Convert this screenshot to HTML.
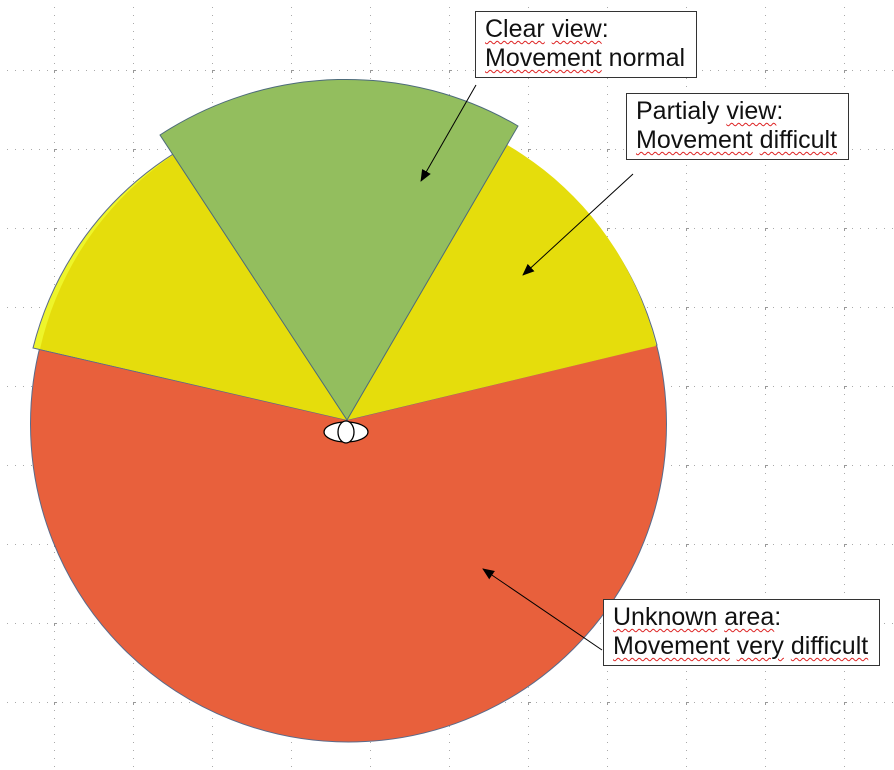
<!DOCTYPE html>
<html><head><meta charset="utf-8"><style>
body{margin:0;background:#fff;}
#wrap{position:relative;width:894px;height:770px;overflow:hidden;font-family:"Liberation Sans",sans-serif;}
.box{position:absolute;background:#fff;border:1.3px solid #333;font-size:25px;line-height:29px;color:#111;padding:3px 9px;box-sizing:border-box;white-space:nowrap;}
.sp{text-decoration:underline wavy #d22;text-decoration-thickness:1px;text-underline-offset:3px;}
</style></head><body>
<div id="wrap">
<svg width="894" height="770" style="position:absolute;left:0;top:0">
<defs>
<pattern id="g" x="54" y="70" width="79" height="79" patternUnits="userSpaceOnUse">
<line x1="0" y1="0.5" x2="79" y2="0.5" stroke="#aaa" stroke-width="1" stroke-dasharray="1 7"/>
<line x1="0.5" y1="0" x2="0.5" y2="79" stroke="#aaa" stroke-width="1" stroke-dasharray="1 7"/>
<path d="M-3 0.5H3M0.5 -3V3" stroke="#999" stroke-width="1"/>
</pattern>
<marker id="ah" markerWidth="12" markerHeight="10" refX="11" refY="5" orient="auto" markerUnits="userSpaceOnUse" viewBox="0 0 12 10"><path d="M0 0L12 5L0 10Z" fill="#000"/></marker>
</defs>
<rect width="894" height="770" fill="url(#g)"/>
<circle cx="348.5" cy="424" r="318" fill="#e8603c" stroke="#5a6a8a" stroke-width="1"/>
<path d="M347 420 L33 348 A322 322 0 0 1 657 345 Z" fill="#eef52a" stroke="#5a6a8a" stroke-width="1"/>
<path d="M347 420 L40 349 A316 316 0 0 1 656 346 Z" fill="#e5dd0c"/>
<path d="M347 420 L160 135 A340 340 0 0 1 518 126 Z" fill="#93be5e" stroke="#4d6b7a" stroke-width="1"/>
<g>
<ellipse cx="346" cy="432" rx="22" ry="10" fill="#fff" stroke="#000" stroke-width="1.3"/>
<ellipse cx="346" cy="432" rx="8" ry="11" fill="#fff" stroke="#000" stroke-width="1.3"/>
</g>
<line x1="476" y1="85" x2="421" y2="181" stroke="#000" stroke-width="1" marker-end="url(#ah)"/>
<line x1="633" y1="174" x2="523" y2="275" stroke="#000" stroke-width="1" marker-end="url(#ah)"/>
<line x1="602" y1="650" x2="483" y2="569" stroke="#000" stroke-width="1" marker-end="url(#ah)"/>
</svg>
<div class="box" style="left:475px;top:11px;width:222px;height:67px;"><span class="sp">Clear</span> <span class="sp">view</span>:<br><span class="sp">Movement</span> normal</div>
<div class="box" style="left:626px;top:93px;width:223px;height:67px;">Partialy <span class="sp">view</span>:<br><span class="sp">Movement</span> <span class="sp">difficult</span></div>
<div class="box" style="left:603px;top:599px;width:277px;height:67px;"><span class="sp">Unknown</span> <span class="sp">area</span>:<br><span class="sp">Movement</span> <span class="sp">very</span> <span class="sp">difficult</span></div>
</div>
</body></html>
